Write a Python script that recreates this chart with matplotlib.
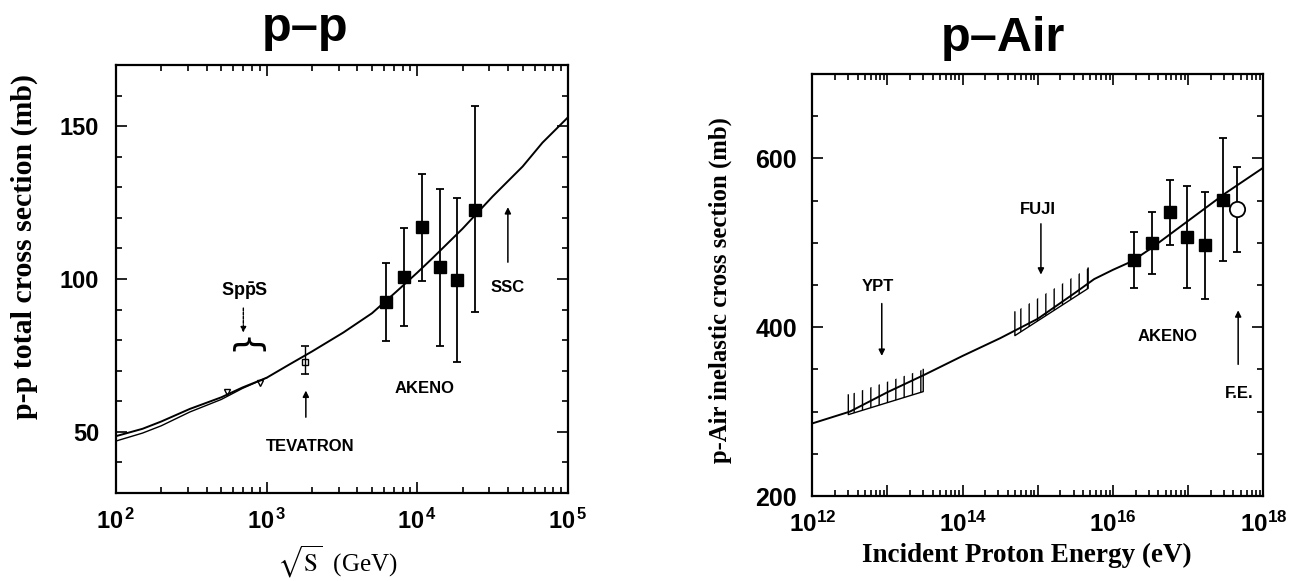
import matplotlib
matplotlib.use('Agg')
import matplotlib.pyplot as plt
import numpy as np
from matplotlib.ticker import (FixedLocator, FixedFormatter, MultipleLocator,
                               LogLocator, NullFormatter)

plt.rcParams['font.family'] = ['Liberation Sans', 'DejaVu Sans']
plt.rcParams['mathtext.fontset'] = 'custom'
plt.rcParams['mathtext.rm'] = 'Liberation Sans:bold'
plt.rcParams['mathtext.bf'] = 'Liberation Sans:bold'
plt.rcParams['mathtext.it'] = 'Liberation Sans:bold:italic'
plt.rcParams['hatch.linewidth'] = 1.0

# ---------------- p-p panel data ----------------
pp_fit_E = [100, 150, 200, 309, 500, 690, 1000, 1410, 2000, 3230, 5000, 7230,
            10000, 12600, 20000, 31600, 50000, 67700, 100000]
pp_fit_sig = [48.6, 51.0, 53.4, 57.5, 61.3, 64.5, 67.7, 72.0, 76.3, 82.5, 88.8,
              95.8, 102.1, 106.8, 116.5, 127.0, 136.8, 144.6, 152.9]
pp_fit2_E = [100, 150, 200, 309, 500, 690, 1000]
pp_fit2_sig = [47.0, 49.6, 52.0, 56.5, 60.6, 64.2, 67.7]

pp_akeno_E = [6190, 8150, 10800, 14150, 18400, 24200]
pp_akeno_sig = [92.5, 100.5, 117.0, 103.8, 99.7, 122.6]
pp_akeno_hi = [105.2, 116.7, 134.4, 129.4, 126.6, 156.5]
pp_akeno_lo = [79.6, 84.7, 99.5, 78.0, 72.9, 89.3]

sppS_E = [546, 900]
sppS_sig = [63.1, 66.0]
tev_E = [1800]
tev_sig = [72.9]
tev_hi = [78.0]
tev_lo = [69.0]

pp_xticks = [1e2, 1e3, 1e4, 1e5]
pp_xticklabels = [r'$\mathdefault{10^{\,2}}$', r'$\mathdefault{10^{\,3}}$',
                  r'$\mathdefault{10^{\,4}}$', r'$\mathdefault{10^{\,5}}$']
pp_yticks = [50, 100, 150]
pp_yticklabels = ['50', '100', '150']

# ---------------- p-Air panel data ----------------
air_fit_E = [1e12, 10**12.5, 1e13, 10**13.5, 1e14, 10**14.5, 1e15, 10**15.5,
             10**15.75, 1e16, 10**16.25, 10**16.5, 1e17, 10**17.5, 1e18]
air_fit_sig = [286, 300, 323, 344, 366, 387, 410, 441, 457, 468, 478, 493,
               526, 559, 589]

akeno_E = [1.9e16, 3.29e16, 5.7e16, 9.7e16, 1.67e17, 2.87e17]
akeno_sig = [479.2, 499.3, 536.6, 506.5, 497.6, 550.6]
akeno_hi = [512.5, 536.6, 574.0, 567.5, 560.7, 623.7]
akeno_lo = [446.3, 463.0, 497.6, 446.3, 433.0, 478.3]

fe_E = [4.5e17]
fe_sig = [539.8]
fe_hi = [589.6]
fe_lo = [489.6]

ypt_E = [10**12.479, 10**13.476]
ypt_lo = [296.4, 323.7]
ypt_hi = [319.7, 349.9]
fuji_E = [10**14.695, 10**15.67]
fuji_lo = [390.0, 446.0]
fuji_hi = [418.0, 470.0]

air_xticks = [1e12, 1e13, 1e14, 1e15, 1e16, 1e17, 1e18]
air_xticklabels = [r'$\mathdefault{10^{12}}$', '', r'$\mathdefault{10^{14}}$', '',
                   r'$\mathdefault{10^{16}}$', '', r'$\mathdefault{10^{18}}$']
air_yticks = [200, 400, 600]
air_yticklabels = ['200', '400', '600']

# ---------------- figure ----------------
fig = plt.figure(figsize=(13.02, 5.81), dpi=100)
ax1 = fig.add_axes([116 / 1302, 1 - 493 / 581, 452 / 1302, 428 / 581])
ax2 = fig.add_axes([812.3 / 1302, 1 - 496 / 581, 451 / 1302, 422 / 581])

serif = 'Liberation Serif'
annot_font = dict(weight='bold', fontsize=12)
arrow_kw = dict(arrowstyle='-|>', lw=1.1, color='k', mutation_scale=9,
                shrinkA=0, shrinkB=0)


def style_axes(ax, xtick_size, ytick_size, ypad):
    for sp in ax.spines.values():
        sp.set_linewidth(1.6)
    ax.tick_params(which='both', direction='in', top=True, right=True,
                   width=1.2, color='k')
    ax.tick_params(which='major', length=8)
    ax.tick_params(which='minor', length=4)
    ax.tick_params(axis='x', pad=11, labelsize=xtick_size)
    ax.tick_params(axis='y', pad=ypad, labelsize=ytick_size)
    for lab in ax.get_xticklabels() + ax.get_yticklabels():
        lab.set_fontweight('bold')


# ---- left: p-p ----
ax1.set_xscale('log')
ax1.plot(pp_fit_E, pp_fit_sig, color='k', lw=1.4)
ax1.plot(pp_fit2_E, pp_fit2_sig, color='k', lw=1.0)
sig = np.array(pp_akeno_sig)
ax1.errorbar(pp_akeno_E, sig,
             yerr=[sig - np.array(pp_akeno_lo), np.array(pp_akeno_hi) - sig],
             fmt='s', color='k', ms=8, capsize=3, elinewidth=1.3, capthick=1.3)
ax1.plot(sppS_E, sppS_sig, ls='none', marker='v', mfc='none', mec='k', ms=5,
         mew=1.0)
tsig = np.array(tev_sig)
ax1.errorbar(tev_E, tsig, yerr=[tsig - np.array(tev_lo), np.array(tev_hi) - tsig],
             fmt='s', mfc='none', mec='k', color='k', ms=4, capsize=3,
             elinewidth=1.0, capthick=1.2)

ax1.set_xlim(1e2, 1e5)
ax1.set_ylim(30, 170)
ax1.xaxis.set_major_locator(FixedLocator(pp_xticks))
ax1.xaxis.set_major_formatter(FixedFormatter(pp_xticklabels))
ax1.xaxis.set_minor_locator(LogLocator(base=10, subs=np.arange(2, 10), numticks=50))
ax1.xaxis.set_minor_formatter(NullFormatter())
ax1.yaxis.set_major_locator(FixedLocator(pp_yticks))
ax1.yaxis.set_major_formatter(FixedFormatter(pp_yticklabels))
ax1.yaxis.set_minor_locator(MultipleLocator(10))
style_axes(ax1, 17, 17, 12)

ax1.set_xlabel(r'$\sqrt{\mathrm{S}}$  (GeV)', family=serif, fontsize=18,
               math_fontfamily='stix')
ax1.xaxis.set_label_coords(0.489, -0.118)
ax1.set_ylabel('p-p total cross section (mb)', family=serif, weight='bold',
               fontsize=21.5)
ax1.yaxis.set_label_coords(-0.172, 0.575)

ax1.text(720, 96, r'$\mathrm{Sp\bar{p}S}$', ha='center', va='center',
         fontsize=13)
ax1.annotate('', xy=(700, 82.5), xytext=(700, 90.5),
             arrowprops=dict(arrowstyle='-|>', lw=1.0, ls=(0, (2, 1)),
                             color='k', mutation_scale=8, shrinkA=0, shrinkB=0))
ax1.text(700, 77.5, '{', rotation=-90, ha='center', va='center',
         family='DejaVu Sans', fontsize=26)
ax1.text(1935, 45.2, 'TEVATRON', ha='center', va='center', **annot_font)
ax1.annotate('', xy=(1820, 63.5), xytext=(1820, 54.8), arrowprops=arrow_kw)
ax1.text(11200, 64.2, 'AKENO', ha='center', va='center', **annot_font)
ax1.text(39900, 97.1, 'SSC', ha='center', va='center', **annot_font)
ax1.annotate('', xy=(39900, 123.5), xytext=(39900, 105.5), arrowprops=arrow_kw)

# ---- right: p-Air ----
ax2.set_xscale('log')
ax2.plot(air_fit_E, air_fit_sig, color='k', lw=1.4)
for E, lo, hi in ((ypt_E, ypt_lo, ypt_hi), (fuji_E, fuji_lo, fuji_hi)):
    ax2.fill_between(E, lo, hi, facecolor='none', edgecolor='k', linewidth=0,
                     hatch='||')
    ax2.plot([E[0], E[0], E[1], E[1]], [hi[0], lo[0], lo[1], hi[1]],
             color='k', lw=1.0)
asig = np.array(akeno_sig)
ax2.errorbar(akeno_E, asig,
             yerr=[asig - np.array(akeno_lo), np.array(akeno_hi) - asig],
             fmt='s', color='k', ms=8, capsize=3, elinewidth=1.3, capthick=1.3)
fsig = np.array(fe_sig)
ax2.errorbar(fe_E, fsig, yerr=[fsig - np.array(fe_lo), np.array(fe_hi) - fsig],
             fmt='o', mfc='white', mec='k', color='k', ms=11, mew=1.3,
             capsize=3, elinewidth=1.3, capthick=1.3)

ax2.set_xlim(1e12, 1e18)
ax2.set_ylim(200, 700)
ax2.xaxis.set_major_locator(FixedLocator(air_xticks))
ax2.xaxis.set_major_formatter(FixedFormatter(air_xticklabels))
ax2.xaxis.set_minor_locator(LogLocator(base=10, subs=np.arange(2, 10), numticks=100))
ax2.xaxis.set_minor_formatter(NullFormatter())
ax2.yaxis.set_major_locator(FixedLocator(air_yticks))
ax2.yaxis.set_major_formatter(FixedFormatter(air_yticklabels))
ax2.yaxis.set_minor_locator(MultipleLocator(50))
style_axes(ax2, 17.5, 18, 11)

ax2.set_xlabel('Incident Proton Energy (eV)', family=serif, weight='bold',
               fontsize=19.5)
ax2.xaxis.set_label_coords(0.476, -0.112)
ax2.set_ylabel('p-Air inelastic cross section (mb)', family=serif,
               weight='bold', fontsize=17.8)
ax2.yaxis.set_label_coords(-0.178, 0.488)

ax2.text(7.55e12, 448, 'YPT', ha='center', va='center', **annot_font)
ax2.annotate('', xy=(8.4e12, 366), xytext=(8.4e12, 428), arrowprops=arrow_kw)
ax2.text(1.01e15, 539.8, 'FUJI', ha='center', va='center', **annot_font)
ax2.annotate('', xy=(1.1e15, 462.3), xytext=(1.1e15, 522.5), arrowprops=arrow_kw)
ax2.text(5.25e16, 388.8, 'AKENO', ha='center', va='center', **annot_font)
ax2.text(4.72e17, 321.7, 'F.E.', ha='center', va='center', **annot_font)
ax2.annotate('', xy=(4.63e17, 420), xytext=(4.63e17, 356), arrowprops=arrow_kw)

# ---- titles ----
fig.text(305 / 1302, 1 - 41 / 581, 'p\u2013p', ha='center', va='baseline',
         fontsize=35, weight='bold')
fig.text(1003 / 1302, 1 - 51 / 581, 'p\u2013Air', ha='center', va='baseline',
         fontsize=35, weight='bold')

fig.savefig('out.png', dpi=100)
